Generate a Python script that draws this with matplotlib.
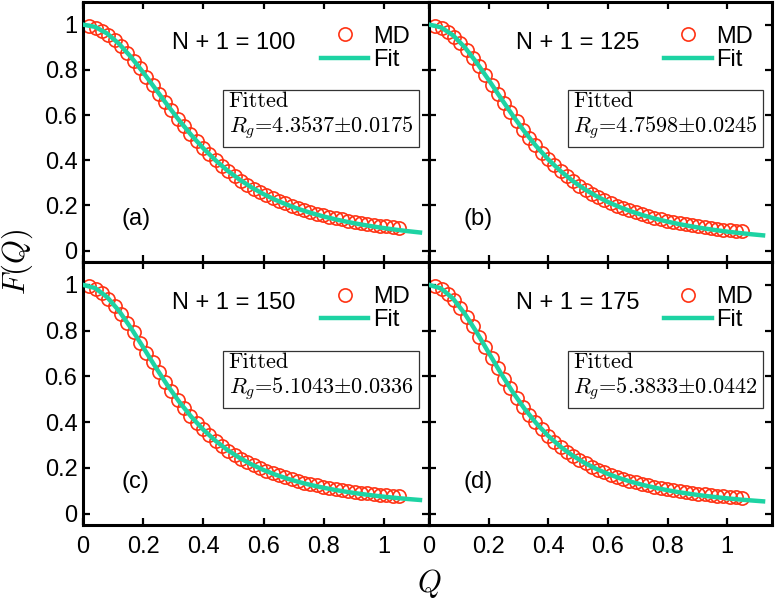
import matplotlib
matplotlib.use("Agg")
import matplotlib.pyplot as plt

plt.rcParams['mathtext.fontset'] = 'cm'
plt.rcParams['font.family'] = ['Liberation Sans', 'DejaVu Sans']

# ---------------- data ----------------
Q_md = [0.021, 0.042, 0.063, 0.084, 0.105, 0.126, 0.147, 0.168, 0.189, 0.210,
        0.231, 0.252, 0.273, 0.294, 0.315, 0.336, 0.357, 0.378, 0.399, 0.420,
        0.441, 0.462, 0.483, 0.504, 0.525, 0.546, 0.567, 0.588, 0.609, 0.630,
        0.651, 0.672, 0.693, 0.714, 0.735, 0.756, 0.777, 0.798, 0.819, 0.840,
        0.861, 0.882, 0.903, 0.924, 0.945, 0.966, 0.987, 1.008, 1.029, 1.050]

md_a = [0.995, 0.987, 0.973, 0.955, 0.932, 0.905, 0.874, 0.841, 0.806, 0.769,
        0.733, 0.695, 0.658, 0.621, 0.584, 0.550, 0.516, 0.484, 0.454, 0.426,
        0.399, 0.374, 0.351, 0.330, 0.310, 0.292, 0.275, 0.260, 0.246, 0.233,
        0.221, 0.209, 0.199, 0.189, 0.180, 0.172, 0.164, 0.157, 0.151, 0.144,
        0.139, 0.133, 0.128, 0.124, 0.119, 0.115, 0.111, 0.108, 0.104, 0.101]
md_b = [0.995, 0.985, 0.969, 0.947, 0.920, 0.888, 0.853, 0.815, 0.775, 0.734,
        0.694, 0.653, 0.612, 0.573, 0.536, 0.500, 0.466, 0.434, 0.405, 0.377,
        0.352, 0.329, 0.307, 0.287, 0.269, 0.252, 0.237, 0.224, 0.211, 0.199,
        0.188, 0.178, 0.169, 0.161, 0.153, 0.146, 0.139, 0.133, 0.127, 0.122,
        0.117, 0.112, 0.108, 0.104, 0.100, 0.097, 0.093, 0.090, 0.088, 0.085]
md_c = [0.994, 0.983, 0.964, 0.939, 0.909, 0.873, 0.834, 0.792, 0.748, 0.704,
        0.661, 0.618, 0.576, 0.535, 0.497, 0.461, 0.428, 0.397, 0.368, 0.342,
        0.318, 0.295, 0.275, 0.257, 0.240, 0.225, 0.211, 0.198, 0.187, 0.176,
        0.167, 0.158, 0.150, 0.142, 0.135, 0.129, 0.123, 0.118, 0.113, 0.108,
        0.103, 0.099, 0.096, 0.092, 0.089, 0.086, 0.083, 0.080, 0.078, 0.075]
md_d = [0.994, 0.981, 0.961, 0.933, 0.900, 0.861, 0.818, 0.773, 0.727, 0.680,
        0.635, 0.590, 0.547, 0.506, 0.467, 0.432, 0.399, 0.368, 0.341, 0.315,
        0.292, 0.271, 0.252, 0.235, 0.219, 0.205, 0.192, 0.181, 0.170, 0.160,
        0.152, 0.143, 0.136, 0.129, 0.123, 0.117, 0.112, 0.107, 0.102, 0.098,
        0.094, 0.090, 0.087, 0.084, 0.081, 0.078, 0.075, 0.073, 0.071, 0.069]

Q_fit = [0.00, 0.04, 0.08, 0.12, 0.16, 0.20, 0.24, 0.28, 0.32, 0.36,
         0.40, 0.44, 0.48, 0.52, 0.56, 0.60, 0.64, 0.68, 0.72, 0.76,
         0.80, 0.84, 0.88, 0.92, 0.96, 1.00, 1.04, 1.08, 1.12]

fit_a = [1.0000, 0.9900, 0.9608, 0.9149, 0.8561, 0.7886, 0.7171, 0.6452, 0.5758, 0.5114,
         0.4527, 0.4004, 0.3545, 0.3148, 0.2802, 0.2502, 0.2245, 0.2022, 0.1829, 0.1660,
         0.1513, 0.1384, 0.1270, 0.1169, 0.1080, 0.1000, 0.0928, 0.0863, 0.0806]
fit_b = [1.0000, 0.9880, 0.9534, 0.8996, 0.8315, 0.7555, 0.6767, 0.5995, 0.5272, 0.4616,
         0.4036, 0.3533, 0.3103, 0.2734, 0.2420, 0.2153, 0.1924, 0.1728, 0.1558, 0.1412,
         0.1284, 0.1173, 0.1076, 0.0989, 0.0912, 0.0844, 0.0783, 0.0728, 0.0679]
fit_c = [1.0000, 0.9862, 0.9467, 0.8857, 0.8102, 0.7271, 0.6428, 0.5621, 0.4884, 0.4231,
         0.3667, 0.3186, 0.2780, 0.2438, 0.2150, 0.1906, 0.1699, 0.1523, 0.1371, 0.1241,
         0.1128, 0.1029, 0.0942, 0.0865, 0.0798, 0.0738, 0.0685, 0.0636, 0.0594]
fit_d = [1.0000, 0.9847, 0.9410, 0.8739, 0.7924, 0.7039, 0.6156, 0.5329, 0.4587, 0.3943,
         0.3394, 0.2933, 0.2548, 0.2227, 0.1959, 0.1734, 0.1543, 0.1382, 0.1243, 0.1124,
         0.1020, 0.0930, 0.0851, 0.0782, 0.0721, 0.0666, 0.0617, 0.0574, 0.0535]

chain_sizes = ["100", "125", "150", "175"]
rg_values = ["4.3537", "4.7598", "5.1043", "5.3833"]
rg_errors = ["0.0175", "0.0245", "0.0336", "0.0442"]
panel_tags = ["(a)", "(b)", "(c)", "(d)"]

x_ticks = [0, 0.2, 0.4, 0.6, 0.8, 1.0]
x_tick_labels = ["0", "0.2", "0.4", "0.6", "0.8", "1"]
y_ticks = [0, 0.2, 0.4, 0.6, 0.8, 1.0]
y_tick_labels = ["0", "0.2", "0.4", "0.6", "0.8", "1"]

md_sets = [md_a, md_b, md_c, md_d]
fit_sets = [fit_a, fit_b, fit_c, fit_d]

# ---------------- styling ----------------
RED = '#FF3314'
TEAL = '#1DD3A3'
FS = 17

W, H = 776, 603
fig = plt.figure(figsize=(W / 100, H / 100), dpi=100)
L, M, R = 83 / W, 429 / W, 772 / W
T, MID, B = 1 - 2 / H, 1 - 262 / H, 1 - 525 / H
rects = [[L, MID, M - L, T - MID], [M, MID, R - M, T - MID],
         [L, B, M - L, MID - B], [M, B, R - M, MID - B]]
tag_x = [0.128, 0.115, 0.128, 0.115]

for i in range(4):
    ax = fig.add_axes(rects[i])
    ax.plot(Q_md, md_sets[i], 'o', mfc='none', mec=RED, ms=9.5, mew=1.2,
            label='MD', zorder=2)
    ax.plot(Q_fit, fit_sets[i], '-', color=TEAL, lw=3.2, label='Fit', zorder=3)
    ax.set_xlim(0, 1.15)
    ax.set_ylim(-0.05, 1.1)
    ax.set_xticks(x_ticks)
    ax.set_xticklabels(x_tick_labels)
    ax.set_yticks(y_ticks)
    ax.set_yticklabels(y_tick_labels)
    ax.tick_params(direction='in', length=5, width=1.6, top=True, right=True,
                   labelsize=FS)
    ax.tick_params(axis='x', pad=8)
    ax.tick_params(axis='y', pad=4)
    for s in ax.spines.values():
        s.set_linewidth(2.2)
    if i in (0, 1):
        ax.tick_params(labelbottom=False)
    if i in (1, 3):
        ax.tick_params(labelleft=False)

    ax.legend(loc='upper right', bbox_to_anchor=(0.945, 0.909), frameon=False,
              fontsize=FS, handlelength=2.0, handletextpad=0.2,
              labelspacing=0.05, borderpad=0, borderaxespad=0)
    ax.text(0.5, 0.92, "N + 1 = " + chain_sizes[i], ha='center', va='center',
            fontsize=FS)
    ax.text(tag_x[i], 0.14, panel_tags[i], ha='left', va='center', fontsize=FS)
    ax.text(0.421, 0.657,
            "Fitted\n$R_g$=" + rg_values[i] + r"$\pm$" + rg_errors[i],
            transform=ax.transAxes, family='cmr10', fontsize=16,
            ha='left', va='top', linespacing=1.2,
            bbox=dict(boxstyle='square,pad=0.25', fc='white', ec='#333333', lw=0.9))

fig.text(17 / W, 1 - 262 / H, '$F(Q)$', rotation=90, ha='center', va='center',
         fontsize=22)
fig.text(429 / W, 1 - 583 / H, '$Q$', ha='center', va='center', fontsize=22)

fig.savefig('out.png', dpi=100)
